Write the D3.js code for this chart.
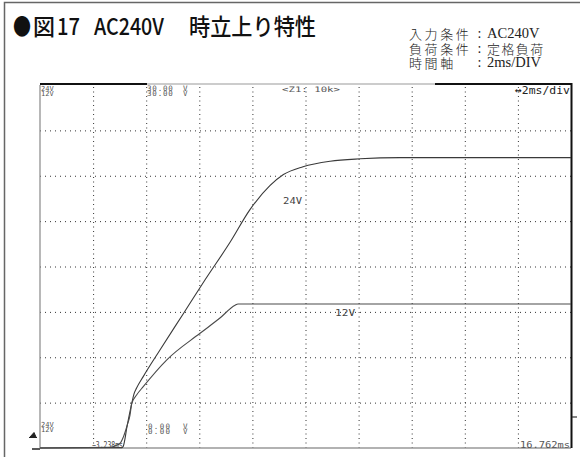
<!DOCTYPE html>
<html>
<head>
<meta charset="utf-8">
<script src="https://cdn.jsdelivr.net/npm/d3@7"></script>
<style>
  body { margin: 0; background: #fff; }
  svg { display: block; }
</style>
</head>
<body>
<svg id="chart" width="580" height="457"></svg>
<script>
// Oscilloscope capture: output voltage rise at AC240V input, 2 ms/div, 3.75 V/div
const timeDomain = [-3.238, 16.762];   // ms, left and right edge of the screen
const voltDomain = [0, 30];            // V, bottom and top of the screen
const msPerDiv = 2;
const voltsPerDiv = 3.75;

// 24 V output trace
const time24 = [-3.238, -0.15, -0.10, 0.05, 0.22, 0.30, 0.40, 0.65, 1.28, 2.16, 2.98, 3.92, 4.67, 5.43, 5.93, 6.67, 7.69, 8.82, 10.32, 11.07, 16.762];
const volt24 = [0.0, 0.03, 0.15, 1.9, 3.7, 4.45, 4.95, 5.9, 8.1, 11.1, 13.9, 17.0, 19.7, 21.7, 22.6, 23.25, 23.7, 23.9, 24.0, 24.0, 24.0];

// 12 V output trace
const time12 = [-3.238, -0.60, -0.40, -0.20, -0.10, 0.05, 0.15, 0.22, 0.40, 0.65, 1.53, 2.79, 3.54, 4.11, 4.22, 16.762];
const volt12 = [0.0, 0.05, 0.18, 0.45, 0.9, 1.9, 2.7, 3.7, 4.38, 5.07, 7.27, 9.48, 10.74, 11.8, 11.9, 11.9];

// Screen annotations
const channelNames = ["24V", "12V"];
const topScaleValues = ["30.00", "30.00"];
const bottomScaleValues = ["0.00", "0.00"];
const scaleUnit = "V";
const zoomLabel = "<Z1: 10k>";
const timebaseLabel = "\u21942ms/div";
const startTimeLabel = "\u22123.238ms";
const endTimeLabel = "16.762ms";

// Header
const titleParts = ["\u25CF", "\u56F3", "17", "AC240V", "\u6642\u7ACB\u4E0A\u308A\u7279\u6027"];
const conditionNames = ["\u5165\u529B\u6761\u4EF6", "\u8CA0\u8377\u6761\u4EF6", "\u6642\u9593\u8EF8"];
const conditionValues = ["AC240V", "\u5B9A\u683C\u8CA0\u8377", "2ms/DIV"];

const svg = d3.select("#chart");
const monoFont = "'DejaVu Sans Mono', monospace";
const cjkFont = "'Noto Sans CJK JP', sans-serif";
const serifFont = "'Liberation Serif', serif";

// outer frame
svg.append("rect").attr("x", 4.5).attr("y", 2.5).attr("width", 590).attr("height", 470)
  .attr("fill", "none").attr("stroke", "#666").attr("stroke-width", 1.5);

// title, laid out piece by piece (condensed Latin between CJK glyphs)
const titleLayout = [
  { x: 13, w: 18 }, { x: 33, w: 22 }, { x: 57, w: 23 }, { x: 94, w: 70 }, { x: 189, w: 127 }
];
titleParts.forEach((t, i) => {
  svg.append("text").attr("x", titleLayout[i].x).attr("y", 35)
    .attr("font-family", cjkFont).attr("font-weight", 500)
    .attr("font-size", 23).attr("fill", "#111")
    .attr("textLength", titleLayout[i].w).attr("lengthAdjust", "spacingAndGlyphs")
    .text(t);
});

// test conditions block: names, colons and values as three aligned columns
const condBase = [39, 53.5, 68];
const condNames = svg.append("text").attr("font-family", cjkFont).attr("font-size", 13)
  .attr("font-weight", 300).attr("letter-spacing", 2.6).attr("fill", "#222");
conditionNames.forEach((n, i) => condNames.append("tspan").attr("x", 409).attr("y", condBase[i]).text(n));
const condColons = svg.append("text").attr("font-family", serifFont).attr("font-size", 14).attr("fill", "#222");
conditionNames.forEach((n, i) => condColons.append("tspan").attr("x", 477.5).attr("y", condBase[i] - 1).text(":"));
const condVals = svg.append("text").attr("fill", "#222");
conditionValues.forEach((v, i) => {
  const latin = /^[\x00-\x7F]+$/.test(v);
  condVals.append("tspan").attr("x", 487).attr("y", condBase[i] - (latin ? 1 : 0))
    .attr("font-family", latin ? serifFont : cjkFont)
    .attr("font-size", latin ? 14.5 : 13)
    .attr("font-weight", latin ? 400 : 300)
    .attr("letter-spacing", latin ? 0 : 1.4)
    .text(v);
});

// screen geometry
const scrLeft = 40, scrRight = 571, scrTop = 85, scrBottom = 448;
const x = d3.scaleLinear().domain(timeDomain).range([scrLeft, scrRight]);
const y = d3.scaleLinear().domain(voltDomain).range([scrBottom, scrTop]);

const xDivTicks = d3.range(1, Math.round((timeDomain[1] - timeDomain[0]) / msPerDiv)).map(i => timeDomain[0] + i * msPerDiv);
const yDivTicks = d3.range(1, Math.round((voltDomain[1] - voltDomain[0]) / voltsPerDiv)).map(i => i * voltsPerDiv);

// dotted graticule drawn with axes
const gx = svg.append("g").attr("transform", `translate(0,${scrBottom})`)
  .call(d3.axisBottom(x).tickValues(xDivTicks).tickSize(-(scrBottom - scrTop)).tickFormat(""));
const gy = svg.append("g").attr("transform", `translate(${scrLeft},0)`)
  .call(d3.axisLeft(y).tickValues(yDivTicks).tickSize(-(scrRight - scrLeft)).tickFormat(""));
[gx, gy].forEach(g => {
  g.select(".domain").remove();
  g.selectAll(".tick line").attr("stroke", "#333").attr("stroke-width", 1)
    .attr("stroke-dasharray", "1 4");
});
gx.selectAll(".tick line").attr("stroke-dasharray", "1 3.5");

// screen border: light on left/bottom, dark segments on top, dark right edge
svg.append("line").attr("x1", scrLeft).attr("x2", scrLeft).attr("y1", scrTop).attr("y2", scrBottom)
  .attr("stroke", "#888").attr("stroke-width", 1.2);
svg.append("line").attr("x1", scrLeft).attr("x2", scrRight).attr("y1", scrBottom).attr("y2", scrBottom)
  .attr("stroke", "#999").attr("stroke-width", 1.4);
svg.append("line").attr("x1", scrLeft).attr("x2", scrRight).attr("y1", scrTop - 1).attr("y2", scrTop - 1)
  .attr("stroke", "#999").attr("stroke-width", 1);
svg.append("line").attr("x1", scrLeft).attr("x2", 147).attr("y1", scrTop - 1).attr("y2", scrTop - 1)
  .attr("stroke", "#111").attr("stroke-width", 1.8);
svg.append("line").attr("x1", 435).attr("x2", scrRight + 1).attr("y1", scrTop - 1).attr("y2", scrTop - 1)
  .attr("stroke", "#111").attr("stroke-width", 1.8);
svg.append("line").attr("x1", scrRight + 0.5).attr("x2", scrRight + 0.5).attr("y1", scrTop - 2).attr("y2", scrBottom)
  .attr("stroke", "#111").attr("stroke-width", 2);
svg.append("line").attr("x1", scrRight + 1).attr("x2", scrRight + 6).attr("y1", 417).attr("y2", 417)
  .attr("stroke", "#333").attr("stroke-width", 1.2);

// ground / trigger markers left of the screen
svg.append("path").attr("d", "M29,437.5 L37,437.5 M30,437 L36,437 L34,432.5 Z")
  .attr("fill", "#222").attr("stroke", "#222").attr("stroke-width", 1);
svg.append("line").attr("x1", 32).attr("x2", 40).attr("y1", 449).attr("y2", 449)
  .attr("stroke", "#222").attr("stroke-width", 1.5);

// traces
const line = d3.line().x(d => x(d[0])).y(d => y(d[1])).curve(d3.curveMonotoneX);
const traces = [d3.zip(time24, volt24), d3.zip(time12, volt12)];
svg.append("g").selectAll("path").data(traces).join("path")
  .attr("d", line).attr("fill", "none")
  .attr("stroke", (d, i) => i === 0 ? "#3a3a3a" : "#4a4a4a")
  .attr("stroke-width", 1.1);

// scope screen text
function scopeText(str, x0, base, w, size, color) {
  svg.append("text").attr("x", x0).attr("y", base)
    .attr("font-family", monoFont).attr("font-size", size || 7.5)
    .attr("fill", color || "#555")
    .attr("textLength", w).attr("lengthAdjust", "spacingAndGlyphs")
    .text(str);
}
// two-line stacked readouts (channel names, V/div settings)
function stacked(x0, bases, lines, opts) {
  const t = svg.append("text").attr("font-family", monoFont).attr("font-size", opts.size)
    .attr("letter-spacing", opts.ls).attr("fill", "#555");
  lines.forEach((s, i) => {
    t.append("tspan").attr("x", x0).attr("y", bases[i]).text(opts.unitX ? s + " " : s);
    if (opts.unitX) t.append("tspan").attr("x", opts.unitX).attr("y", bases[i]).text(scaleUnit);
  });
}
stacked(41, [91, 96], channelNames, { size: 7, ls: 0 });
stacked(147, [91, 96], topScaleValues, { size: 7.5, ls: 0.8, unitX: 183 });
stacked(41, [427, 432], channelNames, { size: 7, ls: 0 });
stacked(148, [429, 434], bottomScaleValues, { size: 7.5, ls: 1.3, unitX: 183 });

scopeText(zoomLabel, 282, 92, 58);
scopeText(timebaseLabel, 515, 94, 55, 11, "#222");
scopeText(startTimeLabel, 92, 448, 31, 8.5, "#444");
scopeText(endTimeLabel, 520, 447.5, 50, 8.5, "#555");

// trace names, placed next to their curves
scopeText(channelNames[0], x(time24[13]) + 13, y(volt24[13]) + 18.5, 19, 8, "#444");
scopeText(channelNames[1], x(time12[13]) + 100, y(volt12[13]) + 11, 20, 8, "#444");
</script>
</body>
</html>
